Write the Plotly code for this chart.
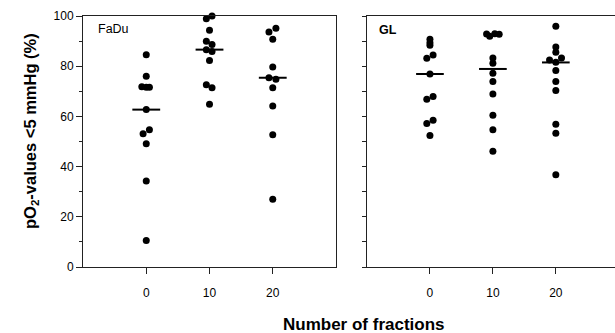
import plotly.graph_objects as go

# ---- data ----
fraction_labels = ["0", "10", "20"]
category_pos = [0, 1, 2]

fadu_0 = [84.6, 76.0, 71.8, 71.6, 71.6, 62.7, 54.7, 53.1, 49.1, 34.3, 10.6]
fadu_10 = [100.0, 98.9, 94.3, 89.9, 88.6, 86.6, 85.9, 82.3, 72.6, 71.4, 64.8]
fadu_20 = [95.1, 93.6, 90.7, 79.7, 75.4, 74.8, 71.4, 64.1, 52.7, 27.0]

gl_0 = [90.7, 89.3, 88.3, 84.5, 83.2, 76.9, 67.9, 66.8, 58.5, 57.2, 52.4]
gl_10 = [92.8, 91.9, 92.9, 92.7, 83.3, 81.2, 77.2, 73.9, 68.9, 60.5, 54.7, 46.1]
gl_20 = [95.9, 87.6, 85.6, 83.3, 82.5, 81.6, 78.3, 73.9, 70.3, 56.9, 53.3, 36.8]

fadu_medians = [62.7, 86.6, 75.4]
gl_medians = [76.9, 78.9, 81.5]

# horizontal scatter of overlapping dots (category units)
fadu_0_dx = [0, 0, -0.07, 0, 0.05, 0, 0.05, -0.05, 0, 0, 0]
fadu_10_dx = [0.04, -0.05, 0, -0.05, 0.04, -0.05, 0.04, 0, -0.05, 0.04, 0]
fadu_20_dx = [0.05, -0.06, 0, 0, -0.06, 0.05, 0, 0, 0, 0]
gl_0_dx = [0, 0, 0, 0.05, -0.05, 0, 0.05, -0.05, 0.05, -0.05, 0]
gl_10_dx = [-0.1, -0.05, 0.03, 0.1, 0, 0, 0, 0, 0, 0, 0, 0]
gl_20_dx = [0, 0, 0, 0.09, -0.1, 0, 0, 0, 0, 0, 0, 0]

FONT = "Arial, Liberation Sans, sans-serif"
W, H = 615, 333


def px(xr):
    return xr / W


def py(yr):
    return (H - yr) / H


fig = go.Figure()

panels = [
    ("x", "y", [fadu_0, fadu_10, fadu_20], [fadu_0_dx, fadu_10_dx, fadu_20_dx], fadu_medians),
    ("x2", "y2", [gl_0, gl_10, gl_20], [gl_0_dx, gl_10_dx, gl_20_dx], gl_medians),
]
for xa, ya, groups, dxs, meds in panels:
    for pos, vals, dx, med in zip(category_pos, groups, dxs, meds):
        fig.add_trace(go.Scatter(
            x=[pos + d for d in dx], y=vals, mode="markers",
            marker=dict(color="black", size=7, line=dict(width=0)),
            xaxis=xa, yaxis=ya, showlegend=False, cliponaxis=False,
            hoverinfo="y"))
        fig.add_trace(go.Scatter(
            x=[pos - 0.22, pos + 0.22], y=[med, med], mode="lines",
            line=dict(color="black", width=2),
            xaxis=xa, yaxis=ya, showlegend=False, cliponaxis=False,
            hoverinfo="skip"))

axis_line = "#222222"
tickfont = dict(family=FONT, size=12, color="black")

x_common = dict(
    tickvals=category_pos, ticktext=fraction_labels,
    ticks="outside", ticklen=6, tickcolor=axis_line, tickwidth=1,
    showline=True, linecolor=axis_line, linewidth=1, mirror=True,
    showgrid=False, zeroline=False, tickfont=tickfont, ticklabelstandoff=9,
    automargin=False,
)
y_dom = [py(267), py(16)]

fig.update_layout(
    width=W, height=H,
    margin=dict(l=0, r=0, t=0, b=0, autoexpand=False),
    paper_bgcolor="white", plot_bgcolor="white",
    font=dict(family=FONT, color="black"),
    xaxis=dict(domain=[px(83), px(336)], range=[-1, 3], **x_common),
    xaxis2=dict(domain=[px(367), 1.0], range=[-1, 2.94], **x_common),
    yaxis=dict(
        domain=y_dom, range=[0, 100], tickvals=[0, 20, 40, 60, 80, 100],
        ticks="outside", ticklen=6, tickcolor=axis_line,
        minor=dict(dtick=10, ticks="outside", ticklen=3, tickcolor=axis_line),
        showline=True, linecolor=axis_line, linewidth=1, mirror=True,
        showgrid=False, zeroline=False, tickfont=tickfont, anchor="x",
        automargin=False,
    ),
    yaxis2=dict(
        domain=y_dom, range=[0, 100], dtick=10, showticklabels=False,
        ticks="outside", ticklen=4, tickcolor=axis_line,
        showline=True, linecolor=axis_line, linewidth=1, mirror=False,
        showgrid=False, zeroline=False, anchor="x2", automargin=False,
    ),
    annotations=[
        dict(text="FaDu", x=px(96), y=py(29), xref="paper", yref="paper",
             xanchor="left", yanchor="middle", showarrow=False,
             font=dict(family=FONT, size=12.5, color="black")),
        dict(text="<b>GL</b>", x=px(377), y=py(30), xref="paper", yref="paper",
             xanchor="left", yanchor="middle", showarrow=False,
             font=dict(family=FONT, size=12.5, color="black")),
        dict(text="<b>pO<sub>2</sub>-values &lt;5 mmHg (%)</b>", x=px(31), y=py(131),
             xref="paper", yref="paper", textangle=-90, xanchor="center", yanchor="middle",
             showarrow=False, font=dict(family=FONT, size=16.5, color="black")),
        dict(text="<b>Number of fractions</b>", x=px(364), y=py(324),
             xref="paper", yref="paper", xanchor="center", yanchor="middle",
             showarrow=False, font=dict(family=FONT, size=17, color="black")),
    ],
)

# remove the page's default body margin so the figure fills the window exactly
fig.write_html(
    "out.html",
    config={"displayModeBar": False},
    post_script="document.body.style.margin='0';document.body.style.overflow='hidden';",
)
